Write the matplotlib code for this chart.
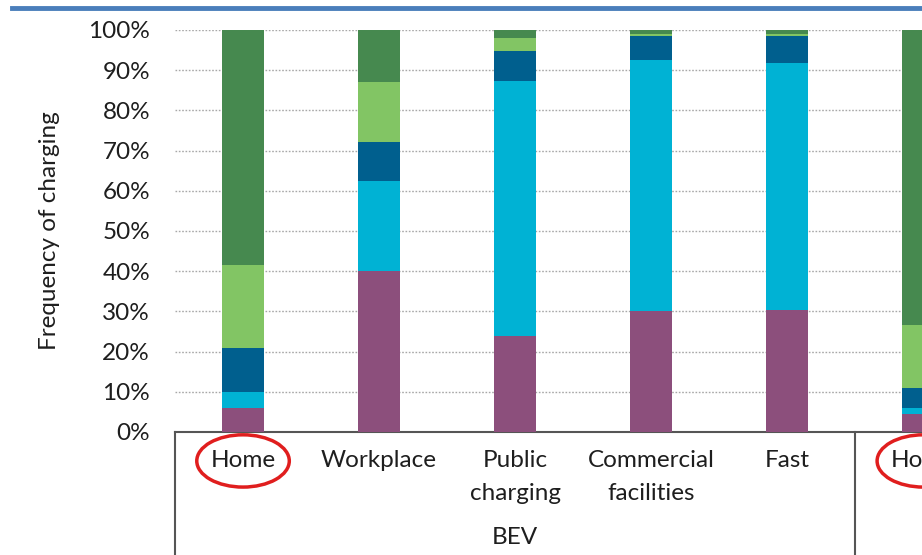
import matplotlib.pyplot as plt
from matplotlib.patches import Ellipse
from matplotlib.lines import Line2D
import matplotlib.transforms as mtransforms

plt.rcParams["font.family"] = ["Lato", "DejaVu Sans"]

categories = ["Home", "Workplace", "Public\ncharging", "Commercial\nfacilities", "Fast", "Home"]
groups = ["BEV"]

# shares per segment, bottom to top
purple = [6.0, 40.0, 24.0, 30.0, 30.3, 4.5]
cyan = [4.0, 22.4, 63.3, 62.5, 61.4, 1.5]
dark_blue = [11.0, 9.7, 7.5, 6.0, 6.8, 5.0]
light_green = [20.5, 14.9, 3.2, 0.5, 0.5, 15.5]
dark_green = [58.5, 13.0, 2.0, 1.0, 1.0, 73.5]

series = [purple, cyan, dark_blue, light_green, dark_green]
colors = ["#8C4F7C", "#00B2D4", "#005F8E", "#82C564", "#46894F"]

yticks = [0, 10, 20, 30, 40, 50, 60, 70, 80, 90, 100]

fs = 17.5
txt_color = "#1e1e1e"

fig = plt.figure(figsize=(9.22, 5.55), dpi=100)
ax = fig.add_axes([175 / 922, 123 / 555, 1 - 175 / 922, 402 / 555])

x = list(range(len(categories)))
bottom = [0.0] * len(categories)
for values, color in zip(series, colors):
    ax.bar(x, values, bottom=bottom, width=0.31, color=color, zorder=3)
    bottom = [b + v for b, v in zip(bottom, values)]

ax.set_xlim(-0.5, 4.99)
ax.set_ylim(0, 100)
ax.set_yticks(yticks)
ax.set_yticklabels([f"{t}%" for t in yticks], fontsize=fs, color=txt_color)
ax.tick_params(axis="y", length=0, pad=18)
ax.set_xticks([])

for t in yticks[1:]:
    ax.axhline(t, color="#a8a8a8", linestyle=(0, (1.2, 1.2)), linewidth=1, zorder=1)

for side in ["top", "right", "left"]:
    ax.spines[side].set_visible(False)
ax.spines["bottom"].set_color("#555555")
ax.spines["bottom"].set_linewidth(1.5)

ax.set_ylabel("Frequency of charging", fontsize=fs, color=txt_color, labelpad=20)

trans = mtransforms.blended_transform_factory(ax.transData, ax.transAxes)

for i, label in enumerate(categories):
    for j, line in enumerate(label.split("\n")):
        ax.text(i, -0.072 - j * 0.08, line, transform=trans, ha="center",
                va="center", fontsize=fs, color=txt_color, clip_on=False)

ax.text(2, -0.263, groups[0], transform=trans, ha="center", va="center",
        fontsize=fs, color=txt_color, clip_on=False)

for xpos in [-0.5, 4.5]:
    ax.add_line(Line2D([xpos, xpos], [0, -0.31], transform=trans,
                       color="#555555", linewidth=1.5, clip_on=False))

for xpos in [0, 5]:
    ax.add_patch(Ellipse((xpos, -0.072), 0.68, 0.13, transform=trans,
                         fill=False, edgecolor="#E01E1E", linewidth=2.5,
                         clip_on=False))

fig.add_artist(Line2D([12 / 922, 1], [1 - 8 / 555, 1 - 8 / 555],
                      transform=fig.transFigure, color="#4A7EBB", linewidth=3.5))

fig.savefig("out.png", dpi=100)
